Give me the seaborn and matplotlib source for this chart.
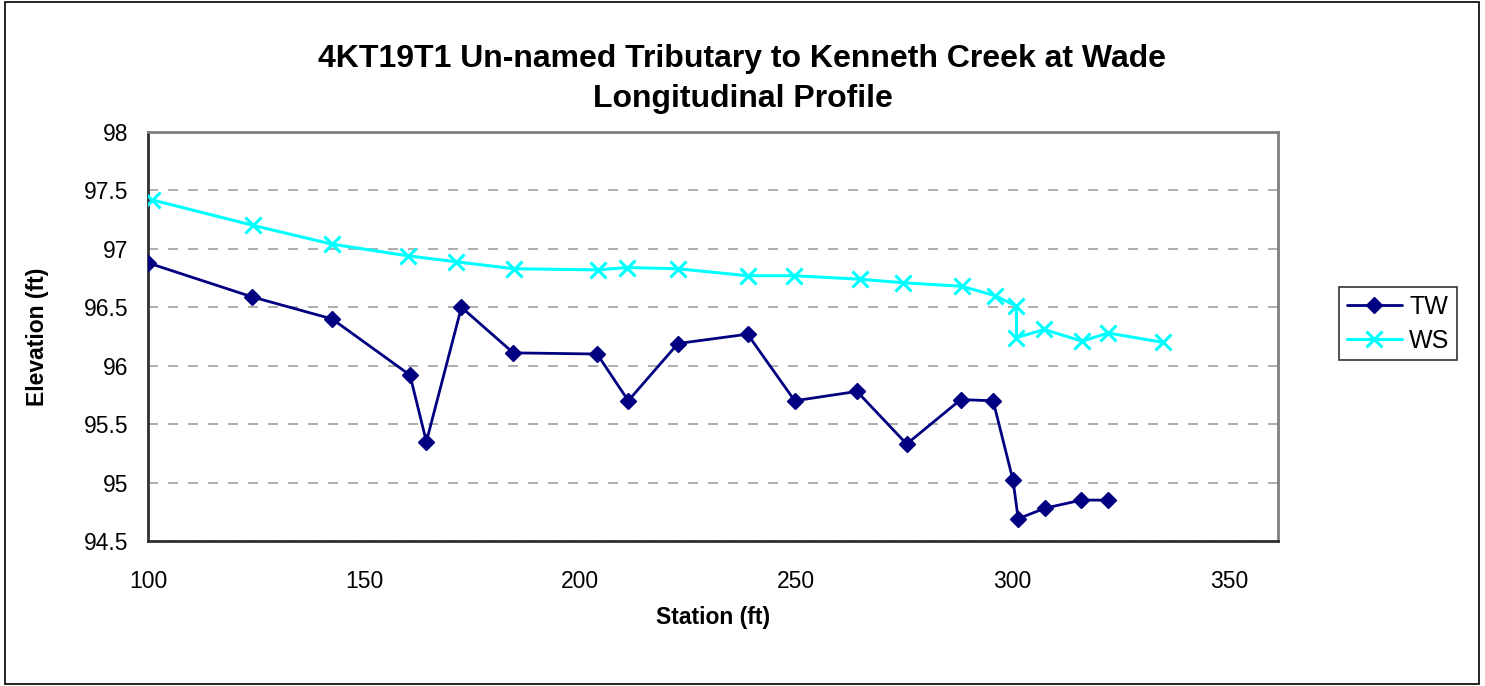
import matplotlib
matplotlib.use("Agg")
import matplotlib.pyplot as plt
import seaborn as sns
import pandas as pd
from matplotlib.patches import Rectangle
from matplotlib.lines import Line2D

# Thalweg (TW) survey points
tw_station = [100.0, 124.0, 142.6, 160.6, 164.4, 172.5, 184.5, 203.9, 211.1, 222.6, 238.7,
              249.6, 264.0, 275.5, 288.0, 295.5, 300.1, 301.3, 307.4, 315.9, 322.1]
tw_elev = [96.88, 96.59, 96.40, 95.92, 95.35, 96.50, 96.11, 96.10, 95.70, 96.19, 96.27,
           95.70, 95.78, 95.33, 95.71, 95.70, 95.02, 94.69, 94.78, 94.85, 94.85]

# Water surface (WS) survey points
ws_station = [100.9, 124.4, 142.6, 160.2, 171.2, 184.6, 204.1, 210.8, 222.5, 238.7, 249.5,
              264.8, 274.7, 288.2, 295.9, 300.9, 300.9, 307.3, 316.1, 322.1, 334.7]
ws_elev = [97.42, 97.20, 97.04, 96.94, 96.89, 96.83, 96.82, 96.84, 96.83, 96.77, 96.77,
           96.74, 96.71, 96.68, 96.60, 96.51, 96.24, 96.31, 96.21, 96.28, 96.20]

series_names = ["TW", "WS"]
x_ticks = [100, 150, 200, 250, 300, 350]
y_ticks = [94.5, 95, 95.5, 96, 96.5, 97, 97.5, 98]
y_tick_labels = ["94.5", "95", "95.5", "96", "96.5", "97", "97.5", "98"]

tw_df = pd.DataFrame({"Station": tw_station, "Elevation": tw_elev})
ws_df = pd.DataFrame({"Station": ws_station, "Elevation": ws_elev})

sns.set_style("white")
plt.rcParams["font.family"] = ["Liberation Sans", "DejaVu Sans"]
plt.rcParams["text.color"] = "black"
plt.rcParams["axes.labelcolor"] = "black"

fig = plt.figure(figsize=(14.85, 6.86), dpi=100)
ax = fig.add_axes([148 / 1485, 1 - 541 / 686, (1278 - 148) / 1485, (541 - 132) / 686])

tw_color = "#000080"
ws_color = "#00FFFF"

sns.lineplot(data=ws_df, x="Station", y="Elevation", color=ws_color, marker="x",
             markersize=11, markeredgewidth=2.2, markeredgecolor=ws_color,
             linewidth=2.2, estimator=None, sort=False, ax=ax, zorder=3)
sns.lineplot(data=tw_df, x="Station", y="Elevation", color=tw_color, marker="D",
             markersize=8, markeredgewidth=1.0, markeredgecolor=tw_color,
             markerfacecolor=tw_color, linewidth=2.0, estimator=None, sort=False,
             ax=ax, zorder=4)

ax.set_xlim(100, 361.4)
ax.set_ylim(94.5, 98)
ax.set_xticks(x_ticks)
ax.set_xticklabels([str(t) for t in x_ticks])
ax.set_yticks(y_ticks)
ax.set_yticklabels(y_tick_labels)
ax.tick_params(axis="both", direction="out", width=1.2, colors="black", labelsize=16.5)
ax.tick_params(axis="y", length=8, pad=6)
ax.tick_params(axis="x", length=6, pad=15)

ax.yaxis.grid(True, linestyle=(0, (6, 6)), color="#a0a0a0", linewidth=1.2)
ax.xaxis.grid(False)
ax.set_axisbelow(True)

for side in ["top", "right"]:
    ax.spines[side].set_color("#808080")
    ax.spines[side].set_linewidth(2.0)
for side in ["left", "bottom"]:
    ax.spines[side].set_color("#303030")
    ax.spines[side].set_linewidth(2.0)

ax.set_xlabel("Station (ft)", fontsize=16.5, fontweight="bold")
ax.set_ylabel("Elevation (ft)", fontsize=16.5, fontweight="bold")
ax.xaxis.set_label_coords(0.5, -0.16)
ax.yaxis.set_label_coords(-0.088, 0.5)

fig.text(0.5, 1 - 79 / 686,
         "4KT19T1 Un-named Tributary to Kenneth Creek at Wade\nLongitudinal Profile",
         ha="center", va="center", fontsize=23, fontweight="bold", linespacing=1.45)

# Legend outside the plot area on the right
handles = [
    Line2D([], [], color=tw_color, marker="D", markersize=8, linewidth=2.0),
    Line2D([], [], color=ws_color, marker="x", markersize=11, markeredgewidth=2.2, linewidth=2.2),
]
leg = fig.legend(handles, series_names, loc="center", bbox_to_anchor=(1398 / 1485, 1 - 324 / 686),
                 fontsize=18, frameon=True, fancybox=False, edgecolor="black",
                 handlelength=2.2, borderpad=0.3, labelspacing=0.4, handletextpad=0.3,
                 borderaxespad=0)
leg.get_frame().set_linewidth(1.2)

# Outer chart border
fig.patches.append(Rectangle((5 / 1485, 2 / 686), 1474 / 1485, 682 / 686, transform=fig.transFigure,
                             fill=False, edgecolor="black", linewidth=1.2))

fig.savefig("out.png", dpi=100)
